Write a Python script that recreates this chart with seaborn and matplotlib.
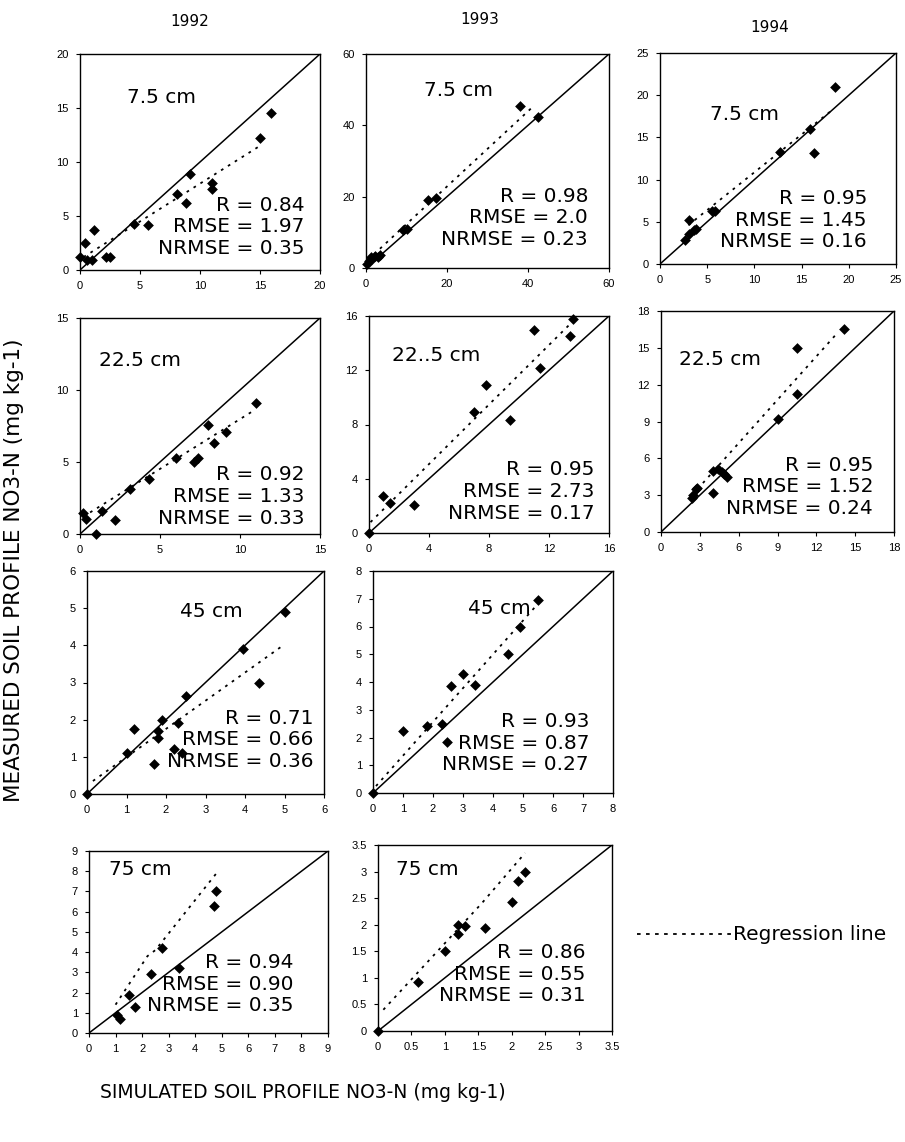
import numpy as np
import matplotlib
matplotlib.use("Agg")
import matplotlib.pyplot as plt
from matplotlib.lines import Line2D
import seaborn as sns

# ---------------------------------------------------------------
# Data: simulated (x) vs measured (y) NO3-N
# ---------------------------------------------------------------
sim_1992_75 = [0.0, 0.4, 0.6, 1.0, 1.2, 2.2, 2.5, 4.5, 5.7, 8.1, 8.8, 9.2, 11.0, 11.0, 15.0, 15.9]
meas_1992_75 = [1.2, 2.5, 0.9, 0.9, 3.7, 1.2, 1.2, 4.3, 4.2, 7.0, 6.2, 8.9, 8.1, 7.5, 12.2, 14.5]
reg_x_1992_75 = [0.3, 15.0]
reg_y_1992_75 = [1.2, 11.5]

sim_1993_75 = [0.3, 0.8, 1.2, 1.6, 2.2, 3.0, 3.5, 9.2, 10.0, 15.4, 17.4, 38.0, 42.5]
meas_1993_75 = [1.0, 2.0, 3.0, 2.5, 3.5, 3.2, 3.6, 10.6, 11.0, 19.0, 19.7, 45.5, 42.2]
reg_x_1993_75 = [0.5, 41.0]
reg_y_1993_75 = [2.3, 45.0]

sim_1994_75 = [2.7, 3.1, 3.1, 3.6, 3.8, 5.5, 5.8, 12.7, 15.9, 16.3, 18.5]
meas_1994_75 = [2.9, 3.6, 5.2, 4.0, 4.1, 6.3, 6.3, 13.3, 16.0, 13.2, 21.0]
reg_x_1994_75 = [3.0, 18.3]
reg_y_1994_75 = [4.6, 18.3]

sim_1992_225 = [0.2, 0.4, 1.0, 1.35, 2.2, 3.1, 4.3, 6.0, 7.1, 7.4, 8.0, 8.4, 9.1, 11.0]
meas_1992_225 = [1.45, 1.05, 0.0, 1.6, 1.0, 3.1, 3.8, 5.3, 5.0, 5.3, 7.6, 6.3, 7.1, 9.1]
reg_x_1992_225 = [0.2, 10.9]
reg_y_1992_225 = [1.2, 8.6]

sim_1993_225 = [0.0, 0.9, 1.4, 3.0, 7.0, 7.8, 9.4, 11.0, 11.4, 13.4, 13.6]
meas_1993_225 = [0.0, 2.7, 2.2, 2.1, 8.9, 10.9, 8.3, 15.0, 12.2, 14.5, 15.8]
reg_x_1993_225 = [0.1, 13.4]
reg_y_1993_225 = [0.8, 15.4]

sim_1994_225 = [2.4, 2.5, 2.7, 2.8, 4.0, 4.0, 4.4, 4.7, 4.9, 5.1, 9.0, 10.5, 10.5, 14.1]
meas_1994_225 = [2.8, 3.0, 3.5, 3.6, 3.2, 5.0, 5.1, 4.9, 4.7, 4.5, 9.2, 15.0, 11.2, 16.5]
reg_x_1994_225 = [2.4, 13.7]
reg_y_1994_225 = [3.0, 16.3]

sim_1992_45 = [0.0, 1.0, 1.2, 1.8, 1.8, 1.9, 2.3, 2.2, 2.4, 1.7, 2.5, 3.95, 4.35, 5.0]
meas_1992_45 = [0.0, 1.1, 1.75, 1.7, 1.5, 2.0, 1.9, 1.2, 1.1, 0.8, 2.65, 3.9, 3.0, 4.9]
reg_x_1992_45 = [0.15, 4.9]
reg_y_1992_45 = [0.35, 3.95]

sim_1993_45 = [0.0, 1.0, 1.8, 2.3, 2.45, 2.6, 3.0, 3.4, 4.5, 4.9, 5.5]
meas_1993_45 = [0.0, 2.25, 2.4, 2.5, 1.85, 3.85, 4.3, 3.9, 5.0, 6.0, 6.95]
reg_x_1993_45 = [0.1, 5.4]
reg_y_1993_45 = [0.25, 6.7]

sim_1992_75cm = [1.05, 1.15, 1.5, 1.75, 2.35, 2.75, 3.4, 4.7, 4.8]
meas_1992_75cm = [0.9, 0.7, 1.9, 1.3, 2.9, 4.2, 3.2, 6.3, 7.0]
reg_x_1992_75cm = [1.0, 2.2, 2.5, 4.8]
reg_y_1992_75cm = [1.4, 3.8, 4.1, 7.9]

sim_1993_75cm = [0.0, 0.6, 1.0, 1.2, 1.2, 1.3, 1.6, 2.0, 2.1, 2.2]
meas_1993_75cm = [0.0, 0.92, 1.5, 1.83, 2.0, 1.97, 1.94, 2.42, 2.82, 3.0]
reg_x_1993_75cm = [0.08, 1.55, 2.2]
reg_y_1993_75cm = [0.4, 2.4, 3.35]

years = ["1992", "1993", "1994"]
depths = ["7.5 cm", "7.5 cm", "7.5 cm", "22.5 cm", "22..5 cm", "22.5 cm",
          "45 cm", "45 cm", "75 cm", "75 cm"]
r_vals = ["0.84", "0.98", "0.95", "0.92", "0.95", "0.95", "0.71", "0.93", "0.94", "0.86"]
rmse_vals = ["1.97", "2.0", "1.45", "1.33", "2.73", "1.52", "0.66", "0.87", "0.90", "0.55"]
nrmse_vals = ["0.35", "0.23", "0.16", "0.33", "0.17", "0.24", "0.36", "0.27", "0.35", "0.31"]
axis_max = [20, 60, 25, 15, 16, 18, 6, 8, 9, 3.5]
tick_step = [5, 20, 5, 5, 4, 3, 1, 1, 1, 0.5]

sims = [sim_1992_75, sim_1993_75, sim_1994_75, sim_1992_225, sim_1993_225,
        sim_1994_225, sim_1992_45, sim_1993_45, sim_1992_75cm, sim_1993_75cm]
meas = [meas_1992_75, meas_1993_75, meas_1994_75, meas_1992_225, meas_1993_225,
        meas_1994_225, meas_1992_45, meas_1993_45, meas_1992_75cm, meas_1993_75cm]
reg_xs = [reg_x_1992_75, reg_x_1993_75, reg_x_1994_75, reg_x_1992_225, reg_x_1993_225,
          reg_x_1994_225, reg_x_1992_45, reg_x_1993_45, reg_x_1992_75cm, reg_x_1993_75cm]
reg_ys = [reg_y_1992_75, reg_y_1993_75, reg_y_1994_75, reg_y_1992_225, reg_y_1993_225,
          reg_y_1994_225, reg_y_1992_45, reg_y_1993_45, reg_y_1992_75cm, reg_y_1993_75cm]

# ---------------------------------------------------------------
# Layout (pixel boxes: left, top, right, bottom) and text positions
# ---------------------------------------------------------------
W, H = 905, 1142
boxes = [(80, 54, 320, 270), (366, 54, 609, 268), (660, 53, 896, 264),
         (80, 318, 320, 534), (369, 316, 609, 533), (661, 311, 894, 532),
         (87, 571, 324, 794), (373, 571, 613, 793),
         (89, 851, 328, 1033), (378, 845, 612, 1031)]
depth_pos = [(0.34, 0.80), (0.38, 0.83), (0.356, 0.71), (0.25, 0.805), (0.28, 0.82),
             (0.253, 0.78), (0.525, 0.82), (0.525, 0.83), (0.216, 0.90), (0.21, 0.87)]
stats_pos = [(0.935, 0.10), (0.914, 0.135), (0.877, 0.106), (0.935, 0.074), (0.94, 0.092),
             (0.91, 0.108), (0.954, 0.146), (0.90, 0.127), (0.857, 0.15), (0.888, 0.19)]

sns.set_theme(style="ticks")
plt.rcParams["font.family"] = ["DejaVu Sans"]
plt.rcParams["text.color"] = "black"

fig = plt.figure(figsize=(W / 100, H / 100), dpi=100)

for i in range(10):
    l, t, r, b = boxes[i]
    ax = fig.add_axes([l / W, 1 - b / H, (r - l) / W, (b - t) / H])
    lim = axis_max[i]

    # 1:1 line
    ax.plot([0, lim], [0, lim], color="black", lw=1.1, zorder=2)
    # regression line
    sns.lineplot(x=reg_xs[i], y=reg_ys[i], ax=ax, color="black", lw=1.3,
                 linestyle=(0, (1.5, 3.0)), zorder=2)
    # observations
    sns.scatterplot(x=sims[i], y=meas[i], ax=ax, marker="D", color="black",
                    s=30, linewidth=0, zorder=3, clip_on=False)

    ticks = np.arange(0, lim + tick_step[i] / 2, tick_step[i])
    ax.set_xlim(0, lim)
    ax.set_ylim(0, lim)
    ax.set_xticks(ticks)
    ax.set_yticks(ticks)
    ax.set_xticklabels([f"{v:g}" for v in ticks], family="Liberation Sans")
    ax.set_yticklabels([f"{v:g}" for v in ticks], family="Liberation Sans")
    ax.tick_params(labelsize=8, length=3, width=0.8, pad=5, colors="black")
    ax.set_xlabel("")
    ax.set_ylabel("")
    for sp in ax.spines.values():
        sp.set_visible(True)
        sp.set_color("black")
        sp.set_linewidth(1.0)

    ax.text(depth_pos[i][0], depth_pos[i][1], depths[i], transform=ax.transAxes,
            ha="center", va="center", fontsize=14.5)
    sx, sy = stats_pos[i]
    lines = [f"R = {r_vals[i]}", f"RMSE = {rmse_vals[i]}", f"NRMSE = {nrmse_vals[i]}"]
    for k, txt in enumerate(lines):
        ax.annotate(txt, xy=(sx, sy), xycoords="axes fraction",
                    xytext=(0, (2 - k) * 15.5), textcoords="offset points",
                    ha="right", va="center", fontsize=14.5)

# column titles
for yr, (cx, cy) in zip(years, [(190, 22), (480, 20), (770, 28)]):
    fig.text(cx / W, 1 - cy / H, yr, ha="center", va="center", fontsize=11)

fig.text(14 / W, 1 - 570 / H, "MEASURED SOIL PROFILE NO3-N (mg kg-1)",
         rotation=90, ha="center", va="center", fontsize=15.5)
fig.text(303 / W, 1 - 1092 / H, "SIMULATED SOIL PROFILE NO3-N (mg kg-1)",
         ha="center", va="center", fontsize=13.5)

# legend key for the regression line
fig.add_artist(Line2D([637 / W, 731 / W], [1 - 934 / H, 1 - 934 / H], color="black",
                      lw=1.3, linestyle=(0, (2.0, 3.0)), transform=fig.transFigure))
fig.text(733 / W, 1 - 934 / H, "Regression line", ha="left", va="center", fontsize=14.5)

fig.savefig("out.png", dpi=100)
